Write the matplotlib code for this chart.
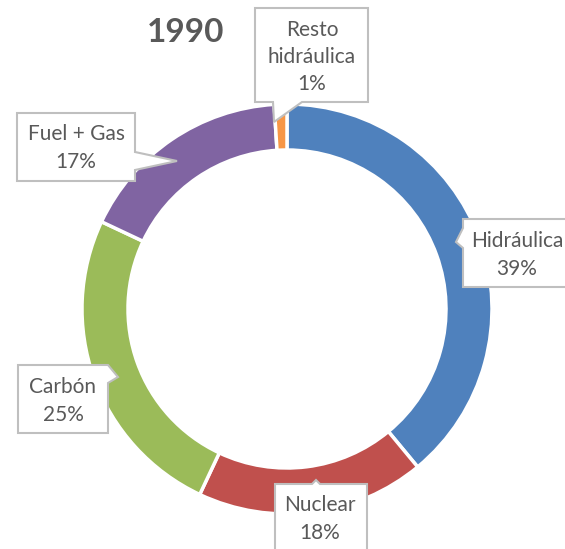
import matplotlib.pyplot as plt
from matplotlib.patches import Polygon

# Data
labels = ['Hidráulica', 'Nuclear', 'Carbón', 'Fuel + Gas', 'Resto\nhidráulica']
values = [39, 18, 25, 17, 1]
colors = ['#4F81BD', '#C0504D', '#9BBB59', '#8064A2', '#F79646']

W, H = 565, 549
text_color = '#595959'
plt.rcParams['font.family'] = ['Lato', 'DejaVu Sans']

fig = plt.figure(figsize=(W / 100, H / 100), dpi=100)
ax = fig.add_axes([0, 0, 1, 1])

# donut, pixel coords (y flipped)
cx, cy, r = 287, 309, 205
ax.pie(values, colors=colors, startangle=90, counterclock=False,
       center=(cx, H - cy), radius=r,
       wedgeprops=dict(width=46, edgecolor='white', linewidth=2.5))
ax.set_xlim(0, W)
ax.set_ylim(0, H)
ax.set_aspect('equal')
ax.axis('off')


def callout(box, side, base, tip):
    # box = (left, top, right, bottom) in px; base = (a, b) along side; tip = (x, y)
    x0, y0, x1, y1 = box
    a, b = base
    if side == 'bottom':
        pts = [(x0, y0), (x1, y0), (x1, y1), (b, y1), tip, (a, y1), (x0, y1)]
    elif side == 'left':
        pts = [(x0, y0), (x1, y0), (x1, y1), (x0, y1), (x0, b), tip, (x0, a)]
    elif side == 'right':
        pts = [(x0, y0), (x1, y0), (x1, a), tip, (x1, b), (x1, y1), (x0, y1)]
    else:  # top
        pts = [(x0, y0), (a, y0), tip, (b, y0), (x1, y0), (x1, y1), (x0, y1)]
    pts = [(x, H - y) for x, y in pts]
    ax.add_patch(Polygon(pts, closed=True, facecolor='white',
                         edgecolor='#BFBFBF', linewidth=1.5, zorder=5))


def label(x, y, txt):
    ax.text(x, H - y, txt, ha='center', va='center', fontsize=15,
            color=text_color, linespacing=1.45, zorder=6)


# percentages as text
pct = [f'{v}%' for v in values]

callout((255, 8, 368, 102), 'bottom', (273, 302), (274, 122))
label(312, 57, labels[4] + '\n' + pct[4])

callout((463, 219, 575, 287), 'left', (228, 248), (456, 242))
label(517, 255, labels[0] + '\n' + pct[0])

callout((275, 484, 367, 560), 'top', (312, 320), (316, 480))
label(320, 519, labels[1] + '\n' + pct[1])

callout((18, 365, 108, 433), 'right', (365, 383), (118, 377))
label(63, 401, labels[2] + '\n' + pct[2])

callout((17, 113, 135, 181), 'right', (152, 170), (177, 161))
label(76, 148, labels[3] + '\n' + pct[3])

ax.text(186, H - 33, '1990', ha='center', va='center', fontsize=24,
        fontweight='bold', color=text_color)

fig.savefig('out.png', dpi=100)
